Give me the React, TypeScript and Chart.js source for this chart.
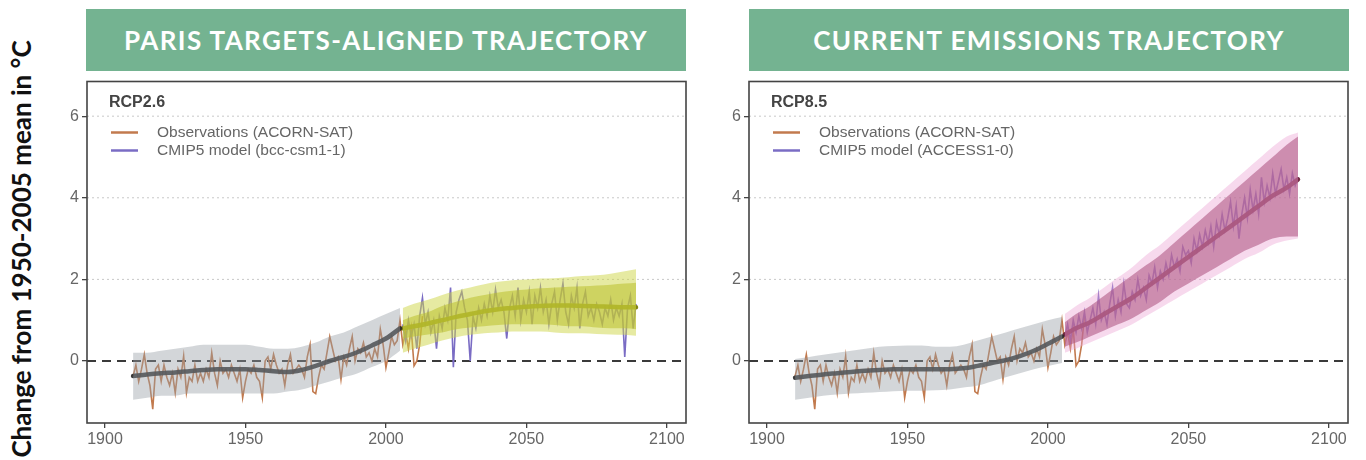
import React, { useEffect, useRef } from "react";
import { Chart, registerables } from "chart.js";
Chart.register(...registerables);

// ---- axes ----
const X_TICKS = [1900, 1950, 2000, 2050, 2100];
const Y_TICKS = [0, 2, 4, 6];
const X_MIN = 1893.6;
const X_MAX = 2106.8;
const Y_MIN = -1.52;
const Y_MAX = 6.85;

// ---- observations (ACORN-SAT), yearly from 1910 ----
const OBS_START = 1910;
const OBS = [
  -0.37, -0.1, -0.5, -0.2, 0.16, -0.3, -0.6, -1.18, -0.2, -0.1,
  -0.5, -0.1, -0.4, -0.6, -0.3, -0.78, -0.2, -0.4, 0.12, -0.78,
  -0.4, -0.5, -0.1, -0.5, -0.3, -0.5, -0.2, -0.4, 0.2, -0.3,
  -0.6, 0.0, -0.3, -0.2, -0.4, -0.1, -0.3, -0.5, -0.2, -0.9,
  -0.5, -0.2, -0.3, -0.1, -0.4, -0.5, -0.9, 0.0, 0.1, -0.2,
  0.16, -0.1, -0.3, -0.2, -0.6, -0.1, 0.16, -0.3, -0.2, -0.1,
  -0.2, -0.4, 0.1, 0.4, -0.75, -0.8, -0.4, -0.1, -0.2, 0.2,
  0.6, 0.3, 0.0, 0.1, -0.45, 0.1, -0.1, 0.3, 0.6, 0.0,
  0.3, 0.2, 0.45, 0.1, 0.2, 0.0, 0.3, 0.1, 0.78, 0.4,
  -0.16, 0.2, 0.6, 0.4, 0.5, 1.0, 0.4, 0.7, 0.3, 0.8,
  -0.12, 0.0, 0.4, 1.1,
];

// ---- CMIP5 single-model runs, yearly from 2006 ----
const MODEL_START = 2006;
const MODEL_26 = [
  0.9, 0.5, 1.0, 0.6, 0.9, 0.3, 1.1, 1.55, 0.9, 1.2,
  0.7, 1.0, 0.3, 1.1, 0.8, 1.3, 1.0, 1.8, -0.15, 1.2,
  1.5, 1.7, 1.3, 1.0, 0.0, 1.1, 0.8, 1.3, 1.0, 1.4,
  1.1, 1.6, 1.2, 1.75, 1.3, 1.5, 1.2, 0.55, 1.3, 1.6,
  1.1, 1.8, 1.0, 1.5, 1.2, 1.7, 0.9, 1.6, 1.3, 1.8,
  1.2, 1.5, 0.9, 1.4, 1.7, 1.0, 1.5, 1.9, 1.2, 0.9,
  1.6, 1.3, 1.8, 0.8, 1.4, 1.7, 1.1, 1.3, 1.0, 1.4,
  1.2, 0.9, 1.3, 1.1, 1.5, 1.0, 1.3, 1.1, 1.4, 0.1,
  1.3, 1.6, 0.8, 1.4,
];
const MODEL_85 = [
  0.6, 0.9, 0.5, 1.0, 0.7, 1.1, 0.8, 1.2, 0.7, 1.0,
  1.3, 0.9, 1.6, 1.0, 1.2, 0.9, 1.4, 1.8, 1.1, 1.5,
  1.2, 1.9, 1.4, 1.3, 1.7, 1.5, 2.0, 1.6, 1.8, 1.5,
  2.1, 1.9, 2.3, 1.8, 2.2, 2.0, 2.4, 2.1, 2.6, 2.3,
  2.5, 2.2, 2.8, 2.6, 2.7, 2.4, 3.0, 2.7, 3.1, 2.8,
  3.2, 2.9, 3.3, 2.8, 3.4, 3.1, 3.6, 3.2, 3.5, 3.9,
  3.3, 3.8, 3.0, 3.6, 4.0, 3.5, 4.2, 3.7, 4.1, 3.6,
  4.5, 3.9, 4.3, 4.0, 4.6, 4.1, 4.4, 4.7, 4.2, 4.5,
  4.1, 4.6, 4.3, 4.5,
];

// ---- historical ensemble (mean + spread) ----
const HIST_YEARS = [1910, 1915, 1920, 1925, 1930, 1935, 1940, 1945, 1950, 1955, 1960, 1965, 1970, 1975, 1980, 1985, 1990, 1995, 2000, 2005];
const HIST_MEAN_26 = [-0.37, -0.33, -0.3, -0.28, -0.25, -0.22, -0.2, -0.2, -0.2, -0.22, -0.25, -0.27, -0.22, -0.12, 0.0, 0.1, 0.22, 0.38, 0.55, 0.8];
const HIST_UP_26 = [0.2, 0.2, 0.25, 0.3, 0.35, 0.4, 0.4, 0.4, 0.4, 0.35, 0.3, 0.3, 0.35, 0.45, 0.6, 0.7, 0.85, 1.0, 1.15, 1.3];
const HIST_LO_26 = [-0.95, -0.9, -0.85, -0.85, -0.8, -0.8, -0.8, -0.8, -0.8, -0.8, -0.8, -0.75, -0.7, -0.6, -0.5, -0.4, -0.3, -0.15, 0.0, 0.25];
const HIST_MEAN_85 = [-0.41, -0.37, -0.33, -0.3, -0.27, -0.24, -0.22, -0.2, -0.2, -0.2, -0.2, -0.2, -0.18, -0.12, -0.05, 0.02, 0.12, 0.25, 0.42, 0.6];
const HIST_UP_85 = [0.05, 0.1, 0.15, 0.2, 0.25, 0.3, 0.35, 0.37, 0.38, 0.38, 0.35, 0.35, 0.4, 0.5, 0.6, 0.7, 0.8, 0.9, 1.0, 1.08];
const HIST_LO_85 = [-0.95, -0.9, -0.85, -0.82, -0.8, -0.78, -0.76, -0.74, -0.73, -0.73, -0.72, -0.7, -0.65, -0.6, -0.5, -0.4, -0.3, -0.2, -0.12, -0.05];

// ---- projected ensemble (mean, inner and outer spread) ----
const FUT_YEARS = [2006, 2010, 2015, 2020, 2025, 2030, 2035, 2040, 2045, 2050, 2055, 2060, 2065, 2070, 2075, 2080, 2085, 2089];
const FUT_MEAN_26 = [0.8, 0.85, 0.92, 1.0, 1.08, 1.15, 1.22, 1.27, 1.3, 1.33, 1.35, 1.36, 1.36, 1.35, 1.34, 1.33, 1.32, 1.32];
const FUT_IN_UP_26 = [1.0, 1.1, 1.2, 1.35, 1.45, 1.55, 1.62, 1.68, 1.72, 1.75, 1.78, 1.8, 1.82, 1.83, 1.85, 1.87, 1.9, 1.92];
const FUT_IN_LO_26 = [0.55, 0.6, 0.65, 0.7, 0.78, 0.82, 0.85, 0.88, 0.9, 0.9, 0.9, 0.88, 0.85, 0.85, 0.82, 0.8, 0.8, 0.78];
const FUT_OUT_UP_26 = [1.3, 1.4, 1.5, 1.62, 1.72, 1.8, 1.88, 1.94, 1.98, 2.0, 2.02, 2.03, 2.05, 2.08, 2.1, 2.14, 2.2, 2.25];
const FUT_OUT_LO_26 = [0.2, 0.3, 0.4, 0.5, 0.58, 0.64, 0.68, 0.7, 0.72, 0.72, 0.72, 0.7, 0.68, 0.68, 0.66, 0.65, 0.64, 0.62];
const FUT_MEAN_85 = [0.65, 0.8, 0.95, 1.15, 1.35, 1.55, 1.8, 2.05, 2.3, 2.55, 2.8, 3.05, 3.3, 3.55, 3.8, 4.05, 4.25, 4.45];
const FUT_IN_UP_85 = [0.95, 1.15, 1.35, 1.6, 1.85, 2.1, 2.35, 2.6, 2.9, 3.2, 3.5, 3.8, 4.1, 4.4, 4.7, 5.0, 5.3, 5.5];
const FUT_IN_LO_85 = [0.35, 0.45, 0.6, 0.75, 0.9, 1.05, 1.25, 1.45, 1.7, 1.9, 2.1, 2.3, 2.5, 2.7, 2.85, 3.0, 3.05, 3.05];
const FUT_OUT_UP_85 = [1.15, 1.35, 1.55, 1.8, 2.05, 2.3, 2.6, 2.85, 3.15, 3.45, 3.75, 4.05, 4.35, 4.65, 4.95, 5.25, 5.5, 5.6];
const FUT_OUT_LO_85 = [0.2, 0.3, 0.45, 0.6, 0.75, 0.9, 1.1, 1.3, 1.5, 1.7, 1.9, 2.1, 2.3, 2.5, 2.65, 2.85, 2.95, 3.0];

const TITLES = ["PARIS TARGETS-ALIGNED TRAJECTORY", "CURRENT EMISSIONS TRAJECTORY"];
const SCENARIOS = ["RCP2.6", "RCP8.5"];
const LEGEND_OBS = "Observations (ACORN-SAT)";
const LEGEND_MODEL = ["CMIP5 model (bcc-csm1-1)", "CMIP5 model (ACCESS1-0)"];
const Y_TITLE = "Change from 1950-2005 mean in °C";

const OBS_COLOR = "#c27a4e";
const MODEL_COLOR = "#7a6cc4";

type Panel = {
  histMean: number[]; histUp: number[]; histLo: number[];
  futMean: number[]; inUp: number[]; inLo: number[]; outUp: number[]; outLo: number[];
  model: number[]; scenario: string; modelLabel: string;
  outerFill: string; innerFill: string; meanColor: string;
};

const PANELS: Panel[] = [
  {
    histMean: HIST_MEAN_26, histUp: HIST_UP_26, histLo: HIST_LO_26,
    futMean: FUT_MEAN_26, inUp: FUT_IN_UP_26, inLo: FUT_IN_LO_26, outUp: FUT_OUT_UP_26, outLo: FUT_OUT_LO_26,
    model: MODEL_26, scenario: SCENARIOS[0], modelLabel: LEGEND_MODEL[0],
    outerFill: "rgba(205,214,70,0.5)", innerFill: "rgba(170,172,20,0.55)", meanColor: "rgba(125,128,10,0.95)",
  },
  {
    histMean: HIST_MEAN_85, histUp: HIST_UP_85, histLo: HIST_LO_85,
    futMean: FUT_MEAN_85, inUp: FUT_IN_UP_85, inLo: FUT_IN_LO_85, outUp: FUT_OUT_UP_85, outLo: FUT_OUT_LO_85,
    model: MODEL_85, scenario: SCENARIOS[1], modelLabel: LEGEND_MODEL[1],
    outerFill: "rgba(235,160,210,0.4)", innerFill: "rgba(140,45,85,0.6)", meanColor: "rgba(110,35,60,0.95)",
  },
];

const pairs = (xs: number[], ys: number[]) => xs.map((x, i) => ({ x, y: ys[i] }));
const yearly = (start: number, ys: number[]) => ys.map((y, i) => ({ x: start + i, y }));

const makeDecor = (p: Panel) => ({
  id: "decor",
  beforeDatasetsDraw(chart: any) {
    const { ctx, chartArea: a, scales } = chart;
    const y = scales.y;
    ctx.save();
    Y_TICKS.forEach((v) => {
      const py = y.getPixelForValue(v);
      ctx.beginPath();
      if (v === 0) {
        ctx.setLineDash([9, 6]);
        ctx.strokeStyle = "#3a3a3a";
        ctx.lineWidth = 1.8;
      } else {
        ctx.setLineDash([2, 3]);
        ctx.strokeStyle = "#c8c8c8";
        ctx.lineWidth = 1;
      }
      ctx.moveTo(a.left, py);
      ctx.lineTo(a.right, py);
      ctx.stroke();
    });
    ctx.restore();
  },
  afterDatasetsDraw(chart: any) {
    const { ctx, chartArea: a } = chart;
    ctx.save();
    ctx.strokeStyle = "#444";
    ctx.lineWidth = 1.6;
    ctx.strokeRect(a.left, a.top, a.right - a.left, a.bottom - a.top);
    ctx.fillStyle = "#444";
    ctx.font = "bold 16px 'Liberation Sans', Arial, sans-serif";
    ctx.textBaseline = "alphabetic";
    ctx.fillText(p.scenario, a.left + 22, a.top + 25);
    const rows = [
      { c: OBS_COLOR, t: LEGEND_OBS, dy: 51 },
      { c: MODEL_COLOR, t: p.modelLabel, dy: 69 },
    ];
    ctx.font = "15.5px 'Liberation Sans', Arial, sans-serif";
    ctx.textBaseline = "middle";
    rows.forEach((r) => {
      ctx.beginPath();
      ctx.strokeStyle = r.c;
      ctx.lineWidth = 2.5;
      ctx.moveTo(a.left + 24, a.top + r.dy);
      ctx.lineTo(a.left + 51, a.top + r.dy);
      ctx.stroke();
      ctx.fillStyle = "#666";
      ctx.fillText(r.t, a.left + 70, a.top + r.dy);
    });
    ctx.restore();
  },
});

function PanelChart({ p, left }: { p: Panel; left: number }) {
  const ref = useRef<HTMLCanvasElement>(null);
  useEffect(() => {
    if (!ref.current) return;
    const band = (data: any[], fill: any, bg: string) => ({
      data, fill, backgroundColor: bg, borderWidth: 0, borderColor: "rgba(0,0,0,0)",
      pointRadius: 0, cubicInterpolationMode: "monotone",
    });
    const chart = new Chart(ref.current, {
      type: "line",
      data: {
        datasets: [
          band(pairs(HIST_YEARS, p.histLo), false, "transparent"),
          band(pairs(HIST_YEARS, p.histUp), "-1", "rgba(150,158,165,0.42)"),
          band(pairs(FUT_YEARS, p.outLo), false, "transparent"),
          band(pairs(FUT_YEARS, p.outUp), "-1", p.outerFill),
          band(pairs(FUT_YEARS, p.inLo), false, "transparent"),
          band(pairs(FUT_YEARS, p.inUp), "-1", p.innerFill),
          {
            data: pairs(HIST_YEARS, p.histMean), borderColor: "rgba(40,40,40,0.9)", borderWidth: 4.5,
            pointRadius: 0, fill: false, cubicInterpolationMode: "monotone", borderCapStyle: "round",
          },
          {
            data: pairs(FUT_YEARS, p.futMean), borderColor: p.meanColor, borderWidth: 4.5,
            pointRadius: 0, fill: false, cubicInterpolationMode: "monotone", borderCapStyle: "round",
          },
          { data: yearly(MODEL_START, p.model), borderColor: MODEL_COLOR, borderWidth: 1.6, pointRadius: 0, fill: false },
          { data: yearly(OBS_START, OBS), borderColor: OBS_COLOR, borderWidth: 1.6, pointRadius: 0, fill: false },
        ] as any,
      },
      options: {
        animation: false,
        responsive: false,
        layout: { padding: { top: 5.5, right: 14, left: 0, bottom: 0 } },
        plugins: {
          legend: { display: false },
          tooltip: { enabled: false },
          filler: { propagate: false },
        } as any,
        scales: {
          x: {
            type: "linear", min: X_MIN, max: X_MAX,
            afterBuildTicks: (s: any) => { s.ticks = X_TICKS.map((v) => ({ value: v })); },
            afterFit: (s: any) => { s.height = 37; s.paddingLeft = 0; s.paddingRight = 0; },
            grid: { drawOnChartArea: false, tickLength: 5, color: "#444", lineWidth: 1.3 },
            border: { display: false },
            ticks: {
              color: "#666", font: { size: 16, family: "'Liberation Sans', Arial, sans-serif" },
              padding: 2, maxRotation: 0, autoSkip: false, callback: (v: any) => String(v),
            },
          },
          y: {
            type: "linear", min: Y_MIN, max: Y_MAX,
            afterBuildTicks: (s: any) => { s.ticks = Y_TICKS.map((v) => ({ value: v })); },
            afterFit: (s: any) => { s.width = 57; s.paddingTop = 0; s.paddingBottom = 0; },
            grid: { drawOnChartArea: false, tickLength: 5, color: "#444", lineWidth: 1.3 },
            border: { display: false },
            ticks: {
              color: "#666", font: { size: 16, family: "'Liberation Sans', Arial, sans-serif" },
              padding: 3, callback: (v: any) => String(v),
            },
          },
        } as any,
      },
      plugins: [makeDecor(p)],
    });
    return () => chart.destroy();
  }, [p]);
  return (
    <canvas
      ref={ref}
      width={670}
      height={384}
      style={{ position: "absolute", left, top: 76, width: 670, height: 384 }}
    />
  );
}

const bannerStyle = (left: number): React.CSSProperties => ({
  position: "absolute", left, top: 9, width: 600, height: 62,
  background: "#74b391", color: "#fff", display: "flex", alignItems: "center", justifyContent: "center",
  fontFamily: "Lato, 'Open Sans', sans-serif", fontWeight: 700, fontSize: 26, letterSpacing: 1.4,
  whiteSpace: "nowrap",
});

export default function App() {
  return (
    <div style={{ position: "absolute", left: 0, top: 0, width: 1366, height: 460, background: "#fff", overflow: "hidden" }}>
      <div style={bannerStyle(86)}>{TITLES[0]}</div>
      <div style={bannerStyle(749)}>{TITLES[1]}</div>
      <div
        style={{
          position: "absolute", left: 21, top: 249, transform: "translate(-50%, -50%) rotate(-90deg)",
          whiteSpace: "nowrap", fontFamily: "Lato, 'Open Sans', sans-serif", fontWeight: 700, fontSize: 26, color: "#111",
        }}
      >
        {Y_TITLE}
      </div>
      <PanelChart p={PANELS[0]} left={30} />
      <PanelChart p={PANELS[1]} left={692} />
    </div>
  );
}
